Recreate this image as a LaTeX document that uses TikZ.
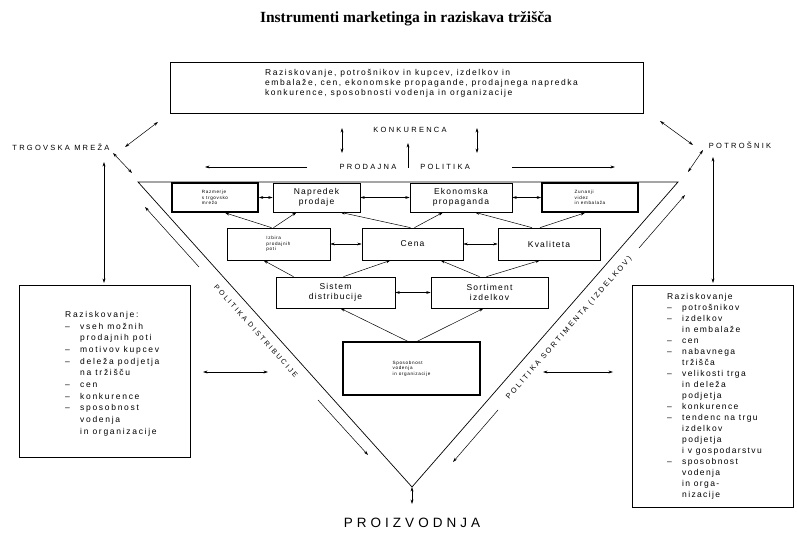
\documentclass[tikz,border=0pt]{standalone}
\usepackage{fontspec}
\setmainfont{Liberation Sans}
\newfontfamily\titlefont{Liberation Serif}
\newfontfamily\txtfont[LetterSpace=14]{Liberation Sans}
\newfontfamily\topfont[LetterSpace=18]{Liberation Sans}
\newfontfamily\leftfont[LetterSpace=20]{Liberation Sans}
\newfontfamily\rightfont[LetterSpace=16]{Liberation Sans}
\newfontfamily\capsfont[LetterSpace=30]{Liberation Sans}
\usetikzlibrary{arrows.meta,calc}
\newcommand{\dsh}{\makebox[15pt][l]{–}}
\newcommand{\ind}{\hspace*{15pt}}
\begin{document}
\begin{tikzpicture}[x=1pt,y=-1pt,
  box/.style={draw, line width=0.7pt, inner sep=0pt, align=center,
    font=\txtfont\fontsize{8.5}{10}\selectfont},
  thickbox/.style={box, line width=1.6pt},
  tinytext/.style={font=\txtfont\fontsize{4.6}{5.6}\selectfont, align=left},
  bigbox/.style={draw, line width=0.8pt, inner sep=0pt},
  boxtext/.style={inner sep=0pt, align=left, anchor=north west},
  topline/.style={inner sep=0pt, anchor=base west, font=\topfont\fontsize{8.5}{10}\selectfont},
  conn/.style={line width=0.5pt, -{Stealth[length=4.5pt,width=2.8pt]}},
  dconn/.style={line width=0.5pt, {Stealth[length=4.5pt,width=2.8pt]}-{Stealth[length=4.5pt,width=2.8pt]}},
  caplabel/.style={font=\capsfont\fontsize{7.5}{8}\selectfont, inner sep=0pt},
  rotlabel/.style={font=\capsfont\fontsize{7}{8}\selectfont, inner sep=1pt},
]
\useasboundingbox (0,0) rectangle (797,534);
\fill[white] (0,0) rectangle (797,534);

% title
\node[font=\titlefont\bfseries\fontsize{15.5}{17}\selectfont] (title) at (406,19) {Instrumenti marketinga in raziskava tržišča};

% top research box
\node[bigbox, minimum width=473pt, minimum height=51pt] (topbox) at (406.5,87.5) {};
\node[topline] (top1) at (265,76) {Raziskovanje, potrošnikov in kupcev, izdelkov in};
\node[topline] (top2) at (265,86) {embalaže, cen, ekonomske propagande, prodajnega napredka};
\node[topline] (top3) at (265,96) {konkurence, sposobnosti vodenja in organizacije};

% labels
\node[caplabel] (konk) at (410,130) {KONKURENCA};
\node[caplabel] (prod) at (368,167) {PRODAJNA};
\node[caplabel] (pol) at (445,167) {POLITIKA};
\node[caplabel] (trg) at (61,147) {TRGOVSKA MREŽA};
\node[caplabel] (potr) at (740,145) {POTROŠNIK};
\node[font=\capsfont\fontsize{13.5}{14}\selectfont, inner sep=0pt] (proiz) at (412,523) {PROIZVODNJA};

% triangle
\coordinate (TL) at (138,182);
\coordinate (TR) at (678,182);
\coordinate (BOT) at (412,487);
\draw[line width=0.7pt] (TL) -- (TR) -- (BOT) -- cycle;

% inner boxes
\node[thickbox, tinytext, minimum width=86pt, minimum height=29pt] (A) at (215,197.5)
  {Razmerje\\s trgovsko\\mrežo};
\node[box, minimum width=87pt, minimum height=29pt] (B) at (316.5,197.5) {Napredek\\prodaje};
\node[box, minimum width=102pt, minimum height=29pt] (C) at (461,197.5) {Ekonomska\\propaganda};
\node[thickbox, tinytext, minimum width=96pt, minimum height=29pt] (D) at (590,197.5)
  {Zunanji\\videz\\in embalaža};
\node[box, tinytext, minimum width=103pt, minimum height=32pt] (E) at (278.5,244)
  {Izbira\\prodajnih\\poti};
\node[box, minimum width=101pt, minimum height=32pt] (F) at (412.5,244) {Cena};
\node[box, minimum width=102pt, minimum height=32pt] (G) at (549,244) {Kvaliteta};
\node[box, minimum width=119pt, minimum height=31pt] (H) at (335.5,292.5) {Sistem\\distribucije};
\node[box, minimum width=117pt, minimum height=31pt] (I) at (489.5,292.5) {Sortiment\\izdelkov};
\node[thickbox, tinytext, minimum width=137pt, minimum height=53pt] (J) at (411.5,368.5)
  {Sposobnost\\vodenja\\in organizacije};

% horizontal links
\draw[dconn] (A) -- (B);
\draw[dconn] (B) -- (C);
\draw[dconn] (C) -- (D);
\draw[dconn] (E) -- (F);
\draw[dconn] (F) -- (G);
\draw[dconn] (H) -- (I);

% upward links
\draw[conn] ([xshift=-7pt]E.north) -- ([xshift=10pt]A.south);
\draw[conn] ([xshift=-5pt]E.north) -- ([xshift=-20pt]B.south);
\draw[conn] ([xshift=-2pt]F.north) -- ([xshift=24pt]B.south);
\draw[conn] ([xshift=2pt]F.north) -- ([xshift=-18pt]C.south);
\draw[conn] ([xshift=-17pt]G.north) -- ([xshift=14pt]C.south);
\draw[conn] ([xshift=-9pt]G.north) -- ([xshift=-5pt]D.south);
\draw[conn] ([xshift=-42pt]H.north) -- ([xshift=-15pt]E.south);
\draw[conn] ([xshift=8pt]H.north) -- ([xshift=-22pt]F.south);
\draw[conn] ([xshift=-10pt]I.north) -- ([xshift=28pt]F.south);
\draw[conn] ([xshift=-3pt]I.north) -- ([xshift=-9pt]G.south);
\draw[conn] ([xshift=-4pt]J.north) -- ([xshift=5pt]H.south);
\draw[conn] ([xshift=6pt]J.north) -- ([xshift=-6pt]I.south);

% side research boxes
\node[bigbox, minimum width=171pt, minimum height=172pt] (lbox) at (104.5,371) {};
\node[boxtext, font=\leftfont\fontsize{8.5}{11.7}\selectfont] (ltext) at (65,311)
  {Raziskovanje:\\
   \dsh vseh možnih\\
   \ind prodajnih poti\\
   \dsh motivov kupcev\\
   \dsh deleža podjetja\\
   \ind na tržišču\\
   \dsh cen\\
   \dsh konkurence\\
   \dsh sposobnost\\
   \ind vodenja\\
   \ind in organizacije};
\node[bigbox, minimum width=161pt, minimum height=222pt] (rbox) at (712.5,396) {};
\node[boxtext, font=\rightfont\fontsize{8.5}{11}\selectfont] (rtext) at (667,293)
  {Raziskovanje\\
   \dsh potrošnikov\\
   \dsh izdelkov\\
   \ind in embalaže\\
   \dsh cen\\
   \dsh nabavnega\\
   \ind tržišča\\
   \dsh velikosti trga\\
   \ind in deleža\\
   \ind podjetja\\
   \dsh konkurence\\
   \dsh tendenc na trgu\\
   \ind izdelkov\\
   \ind podjetja\\
   \ind i v gospodarstvu\\
   \dsh sposobnost\\
   \ind vodenja\\
   \ind in orga-\\
   \ind nizacije};

% arrows around the top box
\coordinate (k1a) at (342,128); \coordinate (k1b) at (342,153);
\coordinate (k2a) at (477,128); \coordinate (k2b) at (477,153);
\coordinate (upa) at (408,168); \coordinate (upb) at (408,143);
\draw[dconn] (k1a) -- (k1b);
\draw[dconn] (k2a) -- (k2b);
\draw[conn] (upa) -- (upb);
\coordinate (pla) at (307,167); \coordinate (plb) at (205,167);
\coordinate (pra) at (512,167); \coordinate (prb) at (615,167);
\draw[conn] (pla) -- (plb);
\draw[conn] (pra) -- (prb);

% left side arrows
\coordinate (t1a) at (125,147); \coordinate (t1b) at (158,122);
\coordinate (t2a) at (113,153); \coordinate (t2b) at (132,173);
\coordinate (t3a) at (104,162); \coordinate (t3b) at (104,283);
\draw[dconn] (t1a) -- (t1b);
\draw[dconn] (t2a) -- (t2b);
\draw[dconn] (t3a) -- (t3b);
\coordinate (lha) at (203,372); \coordinate (lhb) at (268,372);
\draw[dconn] (lha) -- (lhb);

% right side arrows
\coordinate (p1a) at (693,145); \coordinate (p1b) at (660,121);
\coordinate (p2a) at (703,150); \coordinate (p2b) at (688,172);
\coordinate (p3a) at (713,157); \coordinate (p3b) at (713,283);
\draw[dconn] (p1a) -- (p1b);
\draw[dconn] (p2a) -- (p2b);
\draw[dconn] (p3a) -- (p3b);
\coordinate (rha) at (543,372); \coordinate (rhb) at (613,372);
\draw[dconn] (rha) -- (rhb);

% policy rails
\coordinate (la0) at (145,207); \coordinate (la1) at (199,267);
\coordinate (la2) at (318,400); \coordinate (la3) at (368,455);
\draw[conn] (la1) -- (la0);
\draw[conn] (la2) -- (la3);
\node[rotlabel, rotate=-48.1] (poldist) at (256,331) {POLITIKA DISTRIBUCIJE};
\coordinate (ra0) at (685,195); \coordinate (ra1) at (639,248);
\coordinate (ra2) at (498,410); \coordinate (ra3) at (453,462);
\draw[conn] (ra1) -- (ra0);
\draw[conn] (ra2) -- (ra3);
\node[rotlabel, font=\capsfont\fontsize{7.4}{8}\selectfont, rotate=48.9] (polsort) at (569,328) {POLITIKA SORTIMENTA (IZDELKOV)};

% production arrow
\coordinate (pd) at (412,504);
\draw[dconn] (BOT) -- (pd);
\end{tikzpicture}
\end{document}
